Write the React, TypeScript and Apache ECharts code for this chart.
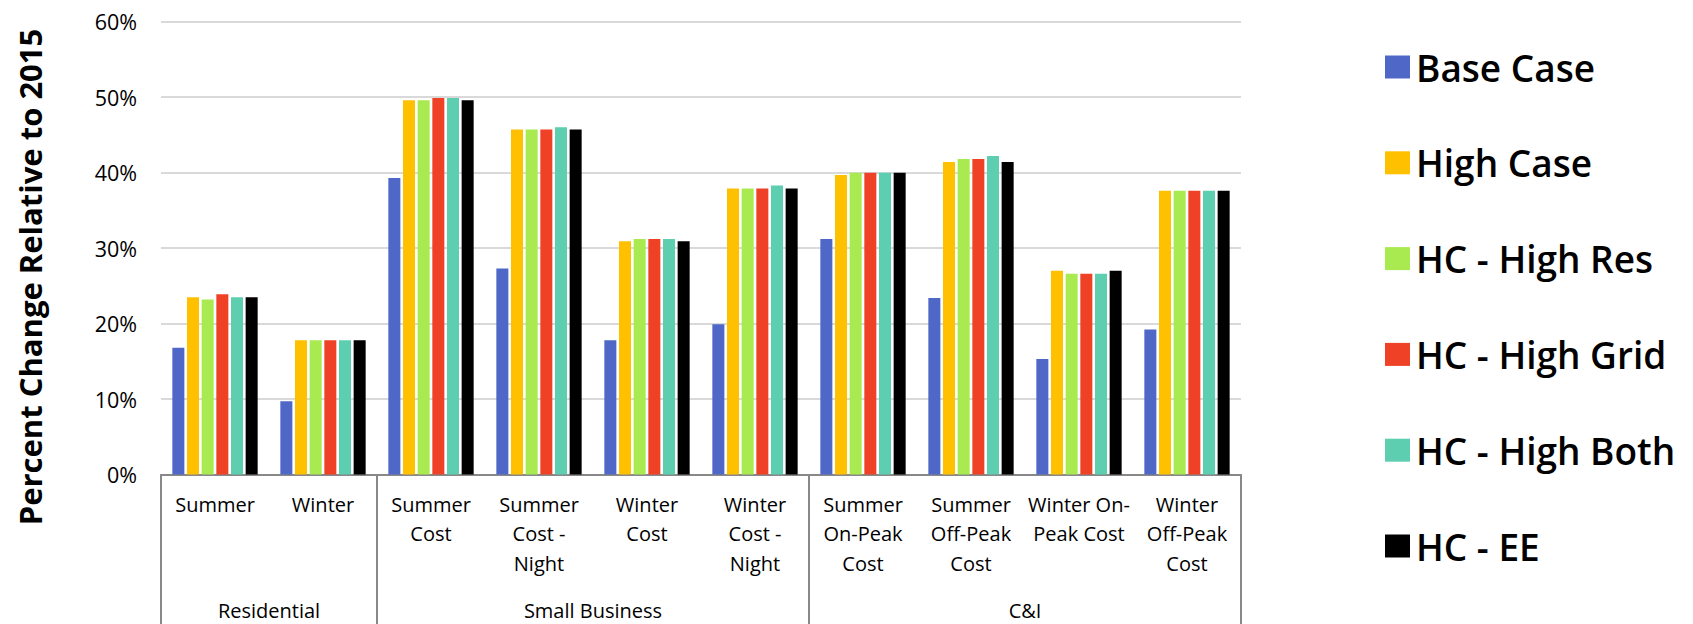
import React, { useEffect, useRef } from "react";
import * as echarts from "echarts";

// Inner category labels (bottom axis, first level)
const categories: string[] = [
  "Summer",
  "Winter",
  "Summer\nCost",
  "Summer\nCost -\nNight",
  "Winter\nCost",
  "Winter\nCost -\nNight",
  "Summer\nOn-Peak\nCost",
  "Summer\nOff-Peak\nCost",
  "Winter On-\nPeak Cost",
  "Winter\nOff-Peak\nCost",
];

// Outer category groups (second level) and how many inner categories each spans
const groupNames: string[] = ["Residential", "Small Business", "C&I"];
const groupSizes: number[] = [2, 4, 4];

const seriesNames: string[] = [
  "Base Case",
  "High Case",
  "HC - High Res",
  "HC - High Grid",
  "HC - High Both",
  "HC - EE",
];

// Percent change relative to 2015
const baseCase: number[] = [16.8, 9.7, 39.3, 27.3, 17.8, 19.9, 31.2, 23.4, 15.3, 19.2];
const highCase: number[] = [23.5, 17.8, 49.6, 45.7, 30.9, 37.9, 39.7, 41.4, 27.0, 37.6];
const hcHighRes: number[] = [23.2, 17.8, 49.6, 45.7, 31.2, 37.9, 40.0, 41.8, 26.6, 37.6];
const hcHighGrid: number[] = [23.9, 17.8, 49.9, 45.7, 31.2, 37.9, 40.0, 41.8, 26.6, 37.6];
const hcHighBoth: number[] = [23.5, 17.8, 49.9, 46.0, 31.2, 38.3, 40.0, 42.2, 26.6, 37.6];
const hcEE: number[] = [23.5, 17.8, 49.6, 45.7, 30.9, 37.9, 40.0, 41.4, 27.0, 37.6];

const seriesValues: number[][] = [baseCase, highCase, hcHighRes, hcHighGrid, hcHighBoth, hcEE];

const colors: string[] = ["#4F67C6", "#FFC000", "#A9EA51", "#EE4126", "#5DCEAF", "#000000"];

const yTicks = { min: 0, max: 60, interval: 10 };

const WIDTH = 1693;
const HEIGHT = 624;
const FONT = '"Open Sans", "DejaVu Sans", sans-serif';

export default function App() {
  const ref = useRef<HTMLDivElement>(null);

  useEffect(() => {
    document.body.style.margin = "0";
    if (!ref.current) return;
    const chart = echarts.init(ref.current, null, { renderer: "svg" });

    chart.setOption({
      animation: false,
      backgroundColor: "#ffffff",
      color: colors,
      grid: { left: 161, right: 452, top: 21.7, bottom: 149.5 },
      legend: {
        orient: "vertical",
        left: 1380,
        top: 41,
        itemWidth: 25,
        itemHeight: 23,
        itemGap: 53.8,
        icon: "rect",
        textStyle: {
          fontFamily: FONT,
          fontSize: 37,
          fontWeight: 600,
          color: "#000",
          lineHeight: 42,
          padding: [0, 0, 0, 1],
        },
        data: seriesNames,
      },
      xAxis: {
        type: "category",
        data: categories,
        axisLine: { show: true, lineStyle: { color: "#888888", width: 2 } },
        axisTick: { show: false },
        axisLabel: {
          interval: 0,
          margin: 15,
          fontFamily: FONT,
          fontSize: 20,
          lineHeight: 29.5,
          color: "#000",
          verticalAlign: "top",
          align: "center",
        },
      },
      yAxis: {
        type: "value",
        min: yTicks.min,
        max: yTicks.max,
        interval: yTicks.interval,
        axisLine: { show: false },
        axisTick: { show: false },
        splitLine: { lineStyle: { color: "#d9d9d9", width: 2 } },
        axisLabel: {
          formatter: "{value}%",
          margin: 24,
          fontFamily: FONT,
          fontSize: 21.5,
          color: "#000",
        },
      },
      series: seriesNames.map((name, i) => ({
        name,
        type: "bar",
        data: seriesValues[i],
        barCategoryGap: "21%",
        barGap: "22%",
        itemStyle: { color: colors[i] },
      })),
    });

    // Second-level category axis: group separators and group labels
    const bandStart = chart.convertToPixel({ xAxisIndex: 0 }, 0) as number;
    const bandNext = chart.convertToPixel({ xAxisIndex: 0 }, 1) as number;
    const band = bandNext - bandStart;
    const axisY = chart.convertToPixel({ yAxisIndex: 0 }, 0) as number;

    const graphics: any[] = [];
    let idx = 0;
    const boundaries: number[] = [];
    groupSizes.forEach((size, g) => {
      const left = (chart.convertToPixel({ xAxisIndex: 0 }, idx) as number) - band / 2;
      const right = (chart.convertToPixel({ xAxisIndex: 0 }, idx + size - 1) as number) + band / 2;
      if (g === 0) boundaries.push(left);
      boundaries.push(right);
      graphics.push({
        type: "text",
        x: (left + right) / 2,
        y: 610,
        silent: true,
        style: {
          text: groupNames[g],
          fontFamily: FONT,
          fontSize: 20,
          fill: "#000",
          align: "center",
          verticalAlign: "middle",
        },
      });
      idx += size;
    });
    boundaries.forEach((bx) => {
      graphics.push({
        type: "line",
        silent: true,
        shape: { x1: bx, y1: axisY, x2: bx, y2: HEIGHT },
        style: { stroke: "#888888", lineWidth: 2 },
      });
    });

    // Vertical axis title
    graphics.push({
      type: "text",
      x: 30,
      y: 277,
      rotation: Math.PI / 2,
      silent: true,
      style: {
        text: "Percent Change Relative to 2015",
        fontFamily: FONT,
        fontSize: 31,
        fontWeight: "bold",
        fill: "#000",
        align: "center",
        verticalAlign: "middle",
      },
    });

    chart.setOption({ graphic: graphics });

    return () => {
      chart.dispose();
    };
  }, []);

  return (
    <div
      ref={ref}
      style={{ position: "fixed", left: 0, top: 0, width: WIDTH, height: HEIGHT }}
    />
  );
}
